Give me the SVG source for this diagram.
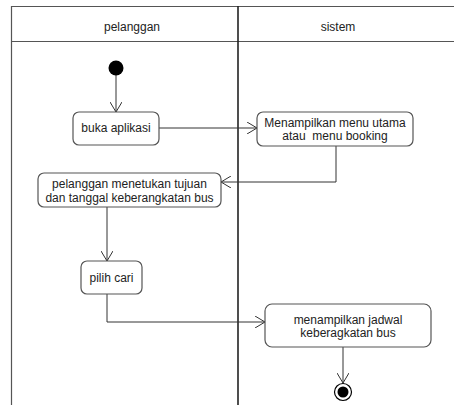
<svg xmlns="http://www.w3.org/2000/svg" width="454" height="405" viewBox="0 0 454 405">
<defs>
<marker id="arr" viewBox="0 0 10 12" refX="10" refY="6" markerWidth="10" markerHeight="12" markerUnits="userSpaceOnUse" orient="auto">
<path d="M0,0 L10,6 L0,12" fill="none" stroke="#333" stroke-width="1"/>
</marker>
</defs>
<style>
.lane{fill:none;stroke:#555;stroke-width:1.2}
.div{stroke:#222;stroke-width:1.6}
.node rect{fill:#fff;stroke:#555;stroke-width:1.2}
text{font-family:"Liberation Sans",Arial,sans-serif;font-size:12px;fill:#222;text-anchor:middle}
.conn path{fill:none;stroke:#333;stroke-width:1;marker-end:url(#arr)}
</style>
<rect width="454" height="405" fill="#fff"/>
<g id="lanes">
<path class="lane" d="M454,6.5 H11.5 V405"/>
<path class="lane" d="M11.5,41.5 H454"/>
<line class="div" x1="238" y1="6" x2="238" y2="405"/>
<text x="132" y="31">pelanggan</text>
<text x="338" y="31">sistem</text>
</g>
<g id="connectors" class="conn">
<path d="M116,75 V112"/>
<path d="M159,128 H257"/>
<path d="M336,146 V182 H221"/>
<path d="M107,207 V261"/>
<path d="M107,294 V322 H265"/>
<path d="M343,347 V383"/>
</g>
<g id="start"><circle cx="116" cy="68" r="7.5" fill="#000"/></g>
<g id="n1" class="node"><rect x="73" y="112" width="86" height="33" rx="6"/><text x="116" y="132">buka aplikasi</text></g>
<g id="n2" class="node"><rect x="257" y="112" width="156" height="34" rx="6"/><text x="335" y="127">Menampilkan menu utama</text><text x="335" y="140" xml:space="preserve">atau  menu booking</text></g>
<g id="n3" class="node"><rect x="38" y="173" width="183" height="34" rx="6"/><text x="129.5" y="188">pelanggan menetukan tujuan</text><text x="129.5" y="202">dan tanggal keberangkatan bus</text></g>
<g id="n4" class="node"><rect x="81" y="261" width="61" height="33" rx="6"/><text x="111.5" y="282">pilih cari</text></g>
<g id="n5" class="node"><rect x="265" y="304" width="166" height="43" rx="7"/><text x="348" y="324">menampilkan jadwal</text><text x="348" y="337">keberagkatan bus</text></g>
<g id="end"><circle cx="343" cy="392" r="8.5" fill="#fff" stroke="#000" stroke-width="1.2"/><circle cx="343" cy="392" r="5.5" fill="#000"/></g>
</svg>
